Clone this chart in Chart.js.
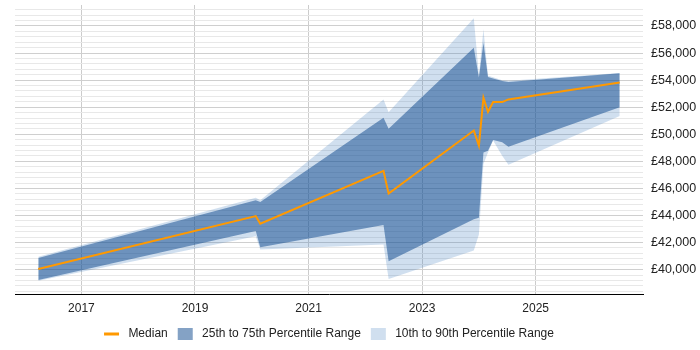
<!DOCTYPE html>
<html>
<head>
<meta charset="utf-8">
<script src="https://cdn.jsdelivr.net/npm/chart.js@4.4.1/dist/chart.umd.min.js"></script>
<style>
	body { margin: 0; background: #fff; }
	#wrap { width: 700px; height: 350px; }
</style>
</head>
<body>
<div id="wrap"><canvas id="chart"></canvas></div>
<script>
// decimal years for each sample
var years = [2016.24, 2020.07, 2020.15, 2022.32, 2022.41, 2023.91, 2024.00, 2024.08, 2024.16, 2024.25, 2024.41, 2024.52, 2026.48];
var median = [40045, 43960, 43388, 47303, 45616, 50275, 49160, 52704, 51649, 52377, 52377, 52577, 53818];
var p25 = [39227, 42845, 41657, 43291, 40617, 43715, 43834, 48662, 48789, 49583, 49405, 49086, 52005];
var p75 = [40862, 45126, 45000, 51218, 50401, 56389, 54190, 56760, 54234, 54115, 53937, 53863, 54509];
var p10 = [39170, 42474, 41486, 41857, 39302, 41412, 42600, 47800, 48650, 49532, 48417, 47749, 51352];
var p90 = [40950, 45319, 45126, 52578, 51634, 58573, 54361, 57756, 54323, 54212, 53989, 53952, 54531];
var yearTicks = [2017, 2019, 2021, 2023, 2025];
var seriesNames = ['Median', '25th to 75th Percentile Range', '10th to 90th Percentile Range'];

function points(values) {
	return values.map(function (v, i) { return { x: years[i], y: v }; });
}

var darkFill = 'rgba(10,70,140,0.5)',
	lightFill = 'rgba(60,120,190,0.24)';

var data = {
	datasets: [{
		label: seriesNames[0],
		data: points(median),
		borderColor: '#ff9900',
		backgroundColor: '#ff9900',
		borderWidth: 2,
		pointRadius: 0,
		pointStyle: 'line',
		fill: false
	}, {
		label: seriesNames[1],
		data: points(p75),
		borderWidth: 0,
		borderColor: darkFill,
		backgroundColor: darkFill,
		pointRadius: 0,
		pointStyle: 'rect',
		fill: '+1'
	}, {
		label: 'p25',
		data: points(p25),
		borderWidth: 0,
		pointRadius: 0,
		fill: false
	}, {
		label: seriesNames[2],
		data: points(p90),
		borderWidth: 0,
		borderColor: lightFill,
		backgroundColor: lightFill,
		pointRadius: 0,
		pointStyle: 'rect',
		fill: '+1'
	}, {
		label: 'p10',
		data: points(p10),
		borderWidth: 0,
		pointRadius: 0,
		fill: false
	}]
};

var font = { family: '"Liberation Sans", Arial, sans-serif', size: 12 };

var options = {
	responsive: true,
	maintainAspectRatio: false,
	animation: false,
	layout: { padding: { left: 15, top: 5, right: 0, bottom: 0 } },
	elements: { line: { tension: 0 } },
	scales: {
		x: {
			type: 'linear',
			min: 2015.83,
			max: 2026.89,
			afterBuildTicks: function (scale) {
				scale.ticks = yearTicks.map(function (v) { return { value: v }; });
			},
			afterFit: function (scale) { scale.height = 24; },
			ticks: {
				autoSkip: false,
				maxRotation: 0,
				padding: 7,
				color: '#222',
				font: font,
				callback: function (v) { return String(v); }
			},
			grid: { color: '#cccccc', drawTicks: false },
			border: { color: '#000000', width: 1 }
		},
		y: {
			position: 'right',
			min: 38200,
			max: 59550,
			afterBuildTicks: function (scale) {
				var t = [];
				for (var v = 38400; v <= 59200; v += 400) t.push({ value: v });
				scale.ticks = t;
			},
			afterFit: function (scale) {
				scale.width = 57;
				scale.paddingTop = 0;
				scale.paddingBottom = 0;
			},
			ticks: {
				autoSkip: false,
				padding: 8,
				color: '#222',
				font: { family: font.family, size: 12.5 },
				callback: function (v) {
					return v % 2000 === 0 ? '£' + v.toLocaleString('en-GB') : '';
				}
			},
			grid: {
				drawTicks: false,
				color: function (ctx) {
					return ctx.tick && ctx.tick.value % 2000 === 0 ? '#cfcfcf' : '#e8e8e8';
				}
			},
			border: { display: false }
		}
	},
	plugins: {
		tooltip: { enabled: false },
		legend: {
			position: 'bottom',
			fullSize: false,
			labels: {
				usePointStyle: true,
				pointStyleWidth: 15,
				boxHeight: 12,
				padding: 10,
				color: '#222',
				font: font,
				filter: function (item) { return item.datasetIndex !== 2 && item.datasetIndex !== 4; },
				generateLabels: function (chart) {
					var items = Chart.defaults.plugins.legend.labels.generateLabels(chart);
					items.forEach(function (it) {
						it.text = ' ' + it.text;
						if (it.datasetIndex === 0) it.lineWidth = 3;
					});
					return items;
				}
			}
		}
	}
};

var chartInstance = new Chart(document.getElementById('chart').getContext('2d'), {
	type: 'line',
	data: data,
	options: options
});
</script>
</body>
</html>
